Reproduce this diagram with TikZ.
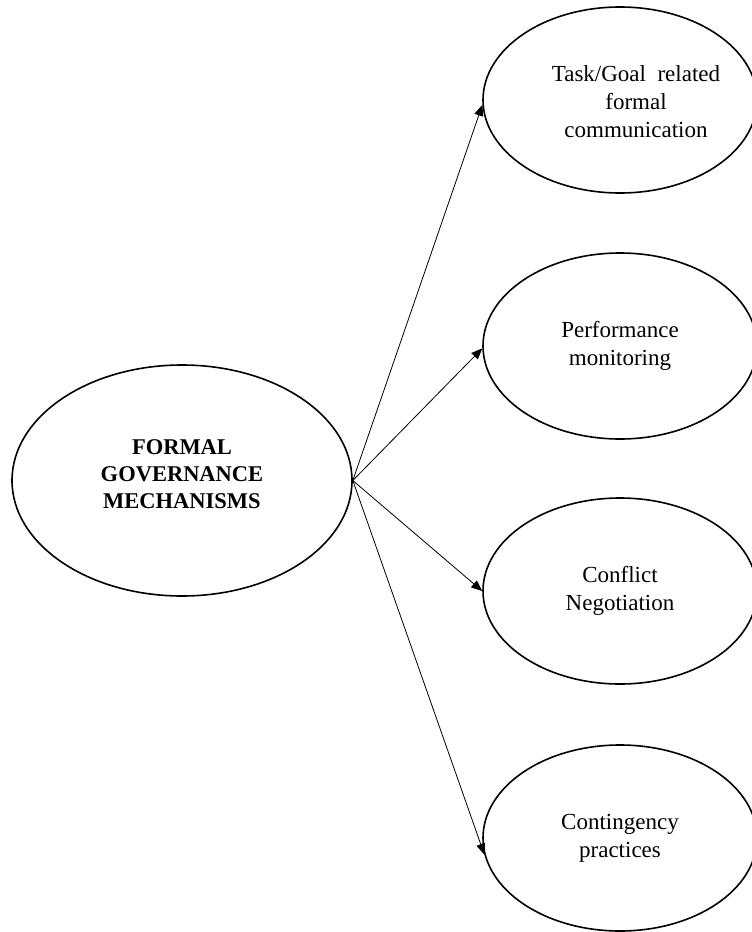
\documentclass[tikz,border=0pt]{standalone}
\usepackage{fontspec}
\setmainfont{Liberation Serif}
\usetikzlibrary{shapes.geometric,arrows.meta}
\begin{document}
\begin{tikzpicture}[x=1pt,y=-1pt,
  bubble/.style={draw=black,line width=1.6pt,ellipse,inner sep=0pt,
    minimum width=274pt,minimum height=186pt,align=center,
    font=\fontsize{23}{28}\selectfont},
  hub/.style={draw=black,line width=1.6pt,ellipse,inner sep=0pt,
    minimum width=340pt,minimum height=231pt},
  link/.style={line width=0.8pt,-{Triangle[length=11pt,width=9pt]}}]
\useasboundingbox (0,0) rectangle (752,932);
\clip (0,0) rectangle (752,932);
\node[hub] (src) at (182,480.5) {};
\node[align=center,font=\bfseries\fontsize{22.5}{27}\selectfont] (srclabel) at (182,474) {FORMAL\\GOVERNANCE\\MECHANISMS};
\node[bubble] (t1) at (620,100) {};
\node[align=center,font=\fontsize{23}{28}\selectfont] (t1label) at (636,102) {Task/Goal \ related\\formal\\communication};
\node[bubble] (t2) at (620,346) {Performance\\monitoring};
\node[bubble] (t3) at (620,591) {Conflict\\Negotiation};
\node[bubble] (t4) at (620,838) {Contingency\\practices};
\draw[link] (src.east) -- (t1.182);
\draw[link] (src.east) -- (t2.181);
\draw[link] (src.east) -- (t3.180);
\draw[link] (src.east) -- (t4.187);
\end{tikzpicture}
\end{document}
